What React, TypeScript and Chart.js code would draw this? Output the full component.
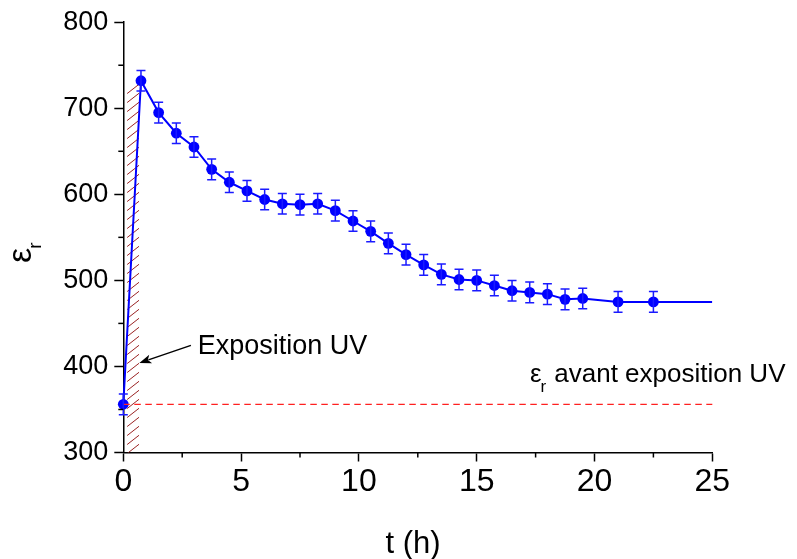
import { useEffect, useRef } from 'react';
import { Chart, registerables } from 'chart.js';

Chart.register(...registerables);

// ---- data ----
const timeHours = [0, 0.75, 1.5, 2.25, 3, 3.75, 4.5, 5.25, 6, 6.75, 7.5, 8.25, 9, 9.75, 10.5, 11.25, 12, 12.75, 13.5, 14.25, 15, 15.75, 16.5, 17.25, 18, 18.75, 19.5, 21, 22.5];
const permittivity = [356, 732, 695, 671, 655, 629, 614, 604, 594, 589, 588, 589, 581, 569, 557, 543, 530, 518, 507, 501, 500, 494, 488, 486, 484, 478, 479, 475, 475];
const errorHalf = [12, 12, 12, 12, 12, 12, 12, 12, 12, 12, 12, 12, 12, 12, 12, 12, 12, 12, 12, 12, 12, 12, 12, 12, 12, 12, 12, 12, 12];
const tailTime = [22.5, 25];
const tailValue = [475, 475];
const baselineTime = [0, 25];
const baselineValue = [356, 356];
const uvRangeTime = [0.1, 0.71];
const uvRangeValue = [300, 727];
const xMinorTicks = [2.5, 7.5, 12.5, 17.5, 22.5];
const yMinorTicks = [350, 450, 550, 650, 750];
const arrowTail = { t: 2.87, v: 424.5 };
const arrowTip = { t: 0.68, v: 404 };
const uvLabel = { t: 3.16, v: 415, text: 'Exposition UV' };
const baselineLabel = { t: 17.26, v: 382, sym: 'ε', sub: 'r', text: 'avant exposition UV' };
const xTitle = 't (h)';
const yTitle = { sym: 'ε', sub: 'r' };

const FONT = '"Liberation Sans", Arial, sans-serif';

const overlayPlugin = {
  id: 'overlay',
  beforeDatasetsDraw(chart: any) {
    const { ctx, scales } = chart;
    const x = scales.x, y = scales.y;
    const left = x.getPixelForValue(uvRangeTime[0]);
    const right = x.getPixelForValue(uvRangeTime[1]);
    const top = y.getPixelForValue(uvRangeValue[1]);
    const bottom = y.getPixelForValue(uvRangeValue[0]);
    ctx.save();
    ctx.beginPath();
    ctx.rect(left, top, right - left, bottom - top);
    ctx.clip();
    ctx.strokeStyle = '#9a2424';
    ctx.lineWidth = 1;
    const w = right - left;
    const rise = w * 0.78;
    for (let yy = bottom + rise; yy > top - 2; yy -= 9) {
      ctx.beginPath();
      ctx.moveTo(left + 1.5, yy - 1.5 * 0.78);
      ctx.lineTo(right - 1, yy - rise + 0.78);
      ctx.stroke();
    }
    ctx.restore();
  },
  afterDatasetsDraw(chart: any) {
    const { ctx, scales } = chart;
    const x = scales.x, y = scales.y;
    ctx.save();
    ctx.strokeStyle = '#1a1aff';
    ctx.lineWidth = 1.5;
    timeHours.forEach((t, i) => {
      const px = x.getPixelForValue(t);
      const y1 = y.getPixelForValue(permittivity[i] + errorHalf[i]);
      const y2 = y.getPixelForValue(permittivity[i] - errorHalf[i]);
      ctx.beginPath();
      ctx.moveTo(px, y1); ctx.lineTo(px, y2);
      ctx.moveTo(px - 4.5, y1); ctx.lineTo(px + 4.5, y1);
      ctx.moveTo(px - 4.5, y2); ctx.lineTo(px + 4.5, y2);
      ctx.stroke();
    });
    ctx.restore();
  },
  afterDraw(chart: any) {
    const { ctx, scales, chartArea } = chart;
    const x = scales.x, y = scales.y;
    ctx.save();
    // minor ticks
    ctx.strokeStyle = '#000';
    ctx.lineWidth = 1.5;
    xMinorTicks.forEach((t) => {
      const px = x.getPixelForValue(t);
      ctx.beginPath();
      ctx.moveTo(px, chartArea.bottom);
      ctx.lineTo(px, chartArea.bottom + 5);
      ctx.stroke();
    });
    yMinorTicks.forEach((v) => {
      const py = y.getPixelForValue(v);
      ctx.beginPath();
      ctx.moveTo(chartArea.left, py);
      ctx.lineTo(chartArea.left - 5, py);
      ctx.stroke();
    });
    // arrow
    const ax1 = x.getPixelForValue(arrowTail.t), ay1 = y.getPixelForValue(arrowTail.v);
    const ax2 = x.getPixelForValue(arrowTip.t), ay2 = y.getPixelForValue(arrowTip.v);
    const ang = Math.atan2(ay2 - ay1, ax2 - ax1);
    const headLen = 12, headW = 4.5;
    ctx.strokeStyle = '#000';
    ctx.lineWidth = 1.5;
    ctx.beginPath();
    ctx.moveTo(ax1, ay1);
    ctx.lineTo(ax2 - Math.cos(ang) * headLen * 0.8, ay2 - Math.sin(ang) * headLen * 0.8);
    ctx.stroke();
    ctx.fillStyle = '#000';
    ctx.beginPath();
    ctx.moveTo(ax2, ay2);
    ctx.lineTo(ax2 - Math.cos(ang) * headLen - Math.sin(ang) * headW, ay2 - Math.sin(ang) * headLen + Math.cos(ang) * headW);
    ctx.lineTo(ax2 - Math.cos(ang) * headLen * 0.75, ay2 - Math.sin(ang) * headLen * 0.75);
    ctx.lineTo(ax2 - Math.cos(ang) * headLen + Math.sin(ang) * headW, ay2 - Math.sin(ang) * headLen - Math.cos(ang) * headW);
    ctx.closePath();
    ctx.fill();
    // text labels
    ctx.fillStyle = '#000';
    ctx.textBaseline = 'alphabetic';
    ctx.textAlign = 'left';
    ctx.font = `27px ${FONT}`;
    ctx.fillText(uvLabel.text, x.getPixelForValue(uvLabel.t), y.getPixelForValue(uvLabel.v));
    const bx = x.getPixelForValue(baselineLabel.t), by = y.getPixelForValue(baselineLabel.v);
    ctx.font = `26px ${FONT}`;
    ctx.fillText(baselineLabel.sym, bx, by);
    const symW = ctx.measureText(baselineLabel.sym).width;
    ctx.font = `17px ${FONT}`;
    ctx.fillText(baselineLabel.sub, bx + symW - 1, by + 10);
    ctx.font = `26px ${FONT}`;
    ctx.fillText(baselineLabel.text, bx + 24.3, by);
    // x title
    ctx.font = `31px ${FONT}`;
    ctx.textAlign = 'center';
    ctx.fillText(xTitle, 413, 553);
    // y title
    ctx.translate(31, 263);
    ctx.rotate(-Math.PI / 2);
    ctx.textAlign = 'left';
    ctx.font = `34px ${FONT}`;
    ctx.fillText(yTitle.sym, 0, 0);
    const yw = ctx.measureText(yTitle.sym).width;
    ctx.font = `19px ${FONT}`;
    ctx.fillText(yTitle.sub, yw - 1, 10);
    ctx.restore();
  },
};

export default function App() {
  const ref = useRef<HTMLCanvasElement | null>(null);
  useEffect(() => {
    if (!ref.current) return;
    const chart = new Chart(ref.current, {
      type: 'scatter',
      data: {
        datasets: [
          {
            data: baselineTime.map((t, i) => ({ x: t, y: baselineValue[i] })),
            showLine: true,
            borderColor: '#ff2020',
            borderWidth: 1.2,
            borderDash: [6.5, 4.5],
            pointRadius: 0,
            clip: false as any,
          },
          {
            data: tailTime.map((t, i) => ({ x: t, y: tailValue[i] })),
            showLine: true,
            borderColor: '#0000ff',
            borderWidth: 2,
            pointRadius: 0,
          },
          {
            data: timeHours.map((t, i) => ({ x: t, y: permittivity[i] })),
            showLine: true,
            borderColor: '#0000ff',
            backgroundColor: '#0000ff',
            borderWidth: 2,
            pointRadius: 5.4,
            pointBorderWidth: 0,
            pointBackgroundColor: '#0000ff',
            clip: false as any,
          },
        ],
      },
      options: {
        animation: false,
        responsive: false,
        maintainAspectRatio: false,
        layout: { padding: { left: 0, top: 21.5, right: 84.7, bottom: 0 } },
        plugins: { legend: { display: false }, tooltip: { enabled: false } },
        scales: {
          x: {
            type: 'linear',
            min: 0,
            max: 25,
            afterFit: (s: any) => { s.height = 106.5; },
            ticks: { stepSize: 5, color: '#000', font: { family: FONT, size: 32, lineHeight: 1.2 }, padding: 1, maxRotation: 0 },
            grid: { display: true, drawOnChartArea: false, drawTicks: true, tickLength: 9, tickColor: '#000', tickWidth: 1.5 },
            border: { display: true, color: '#000', width: 1.5 },
          },
          y: {
            type: 'linear',
            min: 300,
            max: 800,
            afterFit: (s: any) => { s.width = 123.3; },
            ticks: { stepSize: 100, color: '#000', font: { family: FONT, size: 27, lineHeight: 1.2 }, padding: 6 },
            grid: { display: true, drawOnChartArea: false, drawTicks: true, tickLength: 9, tickColor: '#000', tickWidth: 1.5 },
            border: { display: true, color: '#000', width: 1.5 },
          },
        },
      },
      plugins: [overlayPlugin],
    });
    return () => chart.destroy();
  }, []);
  return (
    <div style={{ position: 'fixed', left: 0, top: 0, width: 797, height: 559, background: '#fff' }}>
      <canvas ref={ref} width={797} height={559} style={{ width: 797, height: 559, display: 'block' }} />
    </div>
  );
}
